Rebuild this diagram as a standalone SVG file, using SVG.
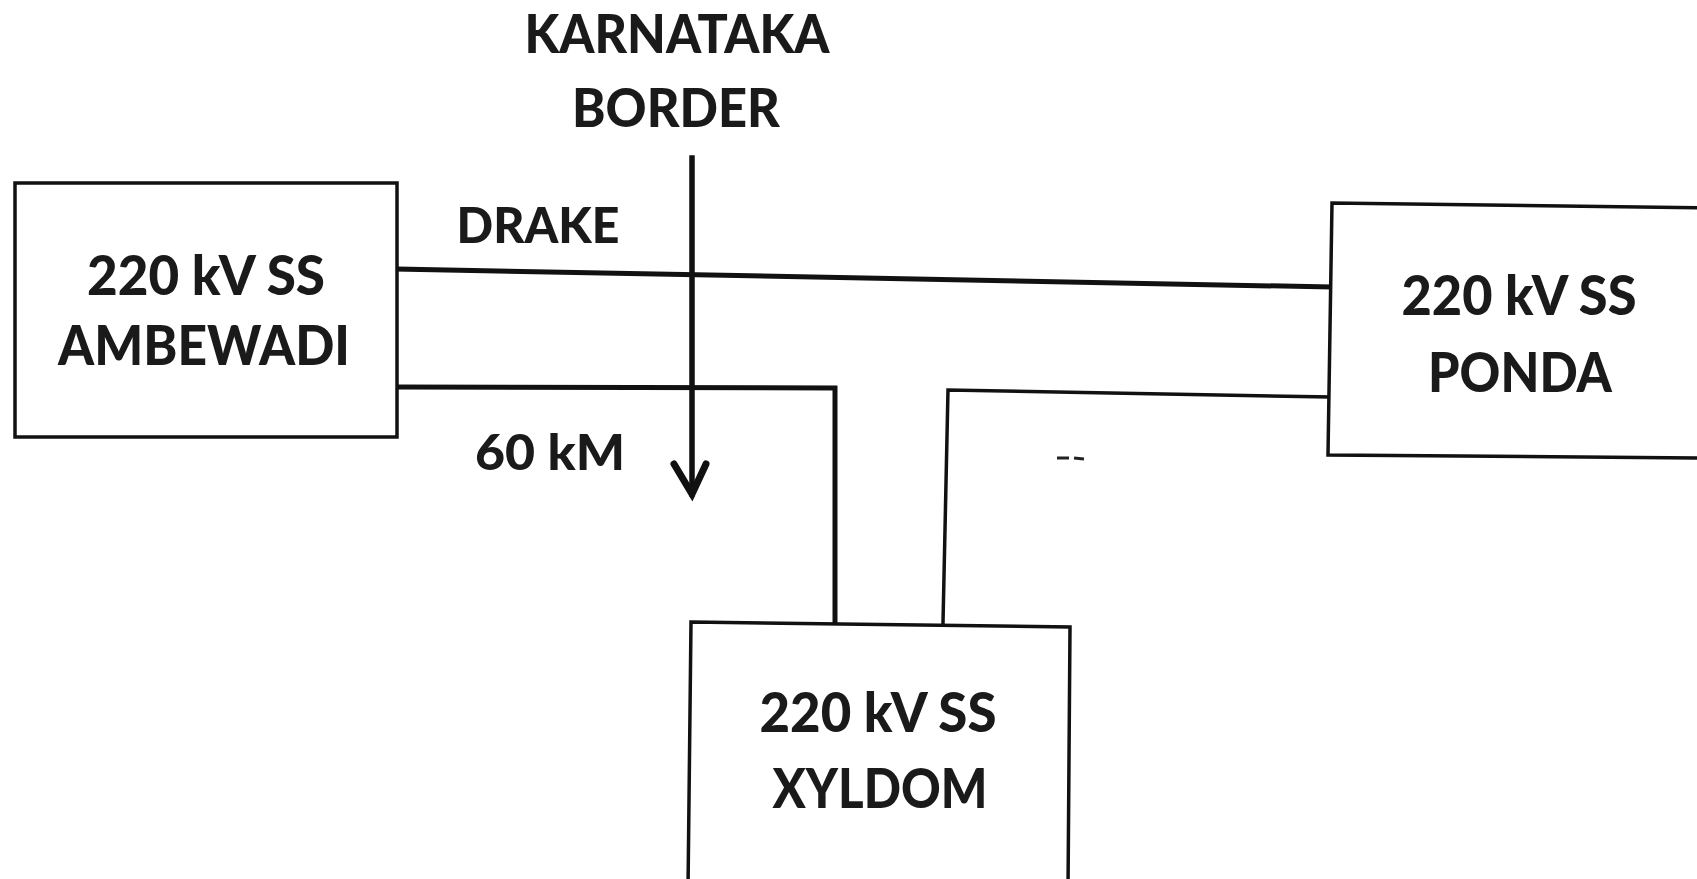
<svg xmlns="http://www.w3.org/2000/svg" width="1697" height="879" viewBox="0 0 1697 879">
<style>
.box{fill:#fff;stroke:#111;stroke-width:3.5}
.t{font-family:Lato,"Open Sans","Liberation Sans",sans-serif;font-weight:900;font-size:56px;fill:#1a1a1a;text-anchor:middle}
.w{fill:none;stroke:#111;stroke-width:5;stroke-linecap:square}
</style>
<rect width="1697" height="879" fill="#fff"/>
<g id="connectors">
<polyline class="w" points="397,269 1330,287"/>
<polyline class="w" points="397,387 835,388 835,622"/>
<polyline class="w" style="stroke-width:3.5" points="1330,397 948,390 943,623"/>
<line class="w" style="stroke-width:5.5" x1="692" y1="158" x2="692" y2="494"/>
<polyline class="w" style="stroke-width:7;stroke-linecap:round;stroke-linejoin:miter" points="674,464 692,494 706,464"/>
<line x1="1057" y1="458" x2="1069" y2="458" stroke="#222" stroke-width="3"/>
<line x1="1074" y1="458" x2="1084" y2="459" stroke="#222" stroke-width="3"/>
</g>
<g id="ambewadi">
<rect class="box" x="15" y="183" width="382" height="254"/>
<text class="t" x="206" y="295" textLength="238" lengthAdjust="spacingAndGlyphs">220 kV SS</text>
<text class="t" x="204" y="365" textLength="292" lengthAdjust="spacingAndGlyphs">AMBEWADI</text>
</g>
<g id="ponda">
<polyline class="box" points="1710,208 1332,203 1328,455 1710,458"/>
<text class="t" x="1519" y="315" textLength="235" lengthAdjust="spacingAndGlyphs">220 kV SS</text>
<text class="t" x="1520" y="392" textLength="184" lengthAdjust="spacingAndGlyphs">PONDA</text>
</g>
<g id="xyldom">
<polygon class="box" points="691,622 1070,627 1068,890 688,890"/>
<text class="t" x="878" y="732" textLength="237" lengthAdjust="spacingAndGlyphs">220 kV SS</text>
<text class="t" x="880" y="808" textLength="215" lengthAdjust="spacingAndGlyphs">XYLDOM</text>
</g>
<g id="labels">
<text class="t" x="677" y="53" textLength="305" lengthAdjust="spacingAndGlyphs" style="font-size:53px">KARNATAKA</text>
<text class="t" x="676" y="127" textLength="208" lengthAdjust="spacingAndGlyphs" style="font-size:53px">BORDER</text>
<text class="t" x="538" y="243" textLength="163" lengthAdjust="spacingAndGlyphs" style="font-size:50px">DRAKE</text>
<text class="t" x="550" y="470" textLength="150" lengthAdjust="spacingAndGlyphs" style="font-size:50px">60 kM</text>
</g>
</svg>
